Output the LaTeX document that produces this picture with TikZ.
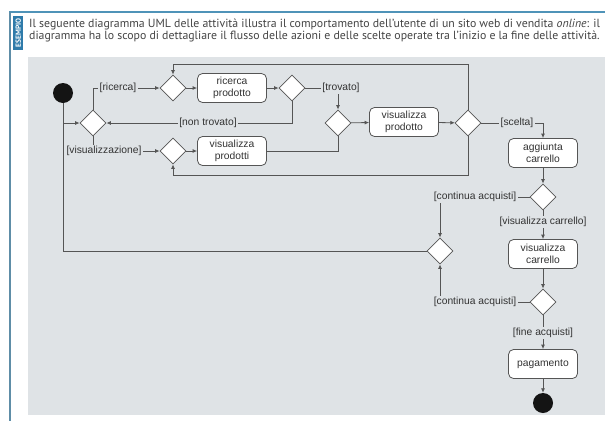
\documentclass[tikz,border=0pt]{standalone}
\usepackage{fontspec}
\setmainfont{Liberation Sans}
\newfontfamily\headfont{PT Sans}
\usetikzlibrary{shapes.geometric,arrows.meta}

\definecolor{panel}{HTML}{DFE3E6}
\definecolor{frameblue}{HTML}{4F93B8}
\definecolor{barblue}{HTML}{2F7BAA}
\definecolor{edgegray}{HTML}{555555}
\definecolor{labelgray}{HTML}{333333}
\definecolor{headgray}{HTML}{444444}

\tikzset{
  flow/.style={draw=edgegray, line width=0.8pt},
  arr/.style={flow, -{Latex[length=4.5pt,width=4pt]}},
  decision/.style={diamond, draw=edgegray, fill=white, line width=0.8pt,
    minimum width=26pt, minimum height=26pt, inner sep=0pt, aspect=1},
  action/.style={rectangle, rounded corners=5pt, draw=edgegray, fill=white,
    line width=0.8pt, minimum width=69pt, minimum height=29pt, inner sep=1pt,
    align=center, font=\fontsize{10.3}{11.5}\selectfont, text=labelgray},
  guard/.style={fill=panel, inner sep=1.5pt, text=labelgray,
    font=\fontsize{10.3}{11.5}\selectfont},
  blob/.style={circle, fill=black!92, minimum size=20pt, inner sep=0pt},
  headline/.style={anchor=base west, inner sep=0pt, text=headgray,
    font=\headfont\fontsize{11.8}{12}\selectfont}
}

\begin{document}
\begin{tikzpicture}[x=1pt,y=-1pt]
\useasboundingbox (0,0) rectangle (605,421);

% frame and header
\fill[white] (0,0) rectangle (605,421);
\fill[panel] (28,57) rectangle (605,415);
\draw[frameblue, line width=1.6pt] (9,12) -- (605,12);
\draw[frameblue!70!gray, line width=1.2pt] (10,12) -- (10,421);
\fill[barblue] (13,16) rectangle (23,50);
\node[rotate=90, text=white, font=\headfont\bfseries\fontsize{7.4}{8}\selectfont, inner sep=0pt]
  (tag) at (18.3,33) {ESEMPIO};
\node[headline] (head1) at (29,27.5) {Il seguente diagramma UML delle attività illustra il comportamento dell’utente di un sito web di vendita \emph{online}: il};
\node[headline] (head2) at (29,39.5) {diagramma ha lo scopo di dettagliare il flusso delle azioni e delle scelte operate tra l’inizio e la fine delle attività.};

% nodes
\node[blob] (start) at (63,93) {};
\node[decision] (d1) at (93,123) {};
\node[decision] (d2) at (173,88) {};
\node[action] (rp) at (232,88) {ricerca\\prodotto};
\node[decision] (d3) at (292,88) {};
\node[decision] (d4) at (338,123) {};
\node[decision] (d5) at (173,151) {};
\node[action] (vps) at (232,151) {visualizza\\prodotti};
\node[action] (vp) at (404,122) {visualizza\\prodotto};
\node[decision] (d6) at (468,123) {};
\node[action] (ac) at (543,153) {aggiunta\\carrello};
\node[decision] (d7) at (543,197) {};
\node[decision] (d8) at (440,251) {};
\node[action] (vc) at (543,254) {visualizza\\carrello};
\node[decision] (d9) at (543,302) {};
\node[action] (pag) at (543,364) {pagamento};
\node[blob] (end) at (543,403) {};

\coordinate (j1) at (63,123);
\coordinate (j2) at (63,251);
\coordinate (toploop) at (173,64);
\coordinate (botloop) at (468,175);

% connectors
\draw[flow] (start) -- (j2);
\draw[flow] (d8.west) -- (j2);
\draw[arr] (j1) -- (d1.west);
\draw[arr] (d1.north) |- (d2.west);
\draw[arr] (d2) -- (rp);
\draw[arr] (rp) -- (d3);
\draw[arr] (d3.east) -| (d4.north);
\draw[arr] (d3.south) |- (d1.east);
\draw[arr] (d1.south) |- (d5.west);
\draw[arr] (d5) -- (vps);
\draw[flow] (vps.east) -| (d4.south);
\draw[arr] (d4) -- (vp);
\draw[arr] (vp) -- (d6);
\draw[arr] (d6.north) |- (toploop) -- (d2.north);
\draw[arr] (d6.south) -- (botloop) -| (d5.south);
\draw[arr] (d6.east) -| (ac.north);
\draw[arr] (ac) -- (d7);
\draw[arr] (d7.west) -| (d8.north);
\draw[arr] (d7) -- (vc);
\draw[arr] (vc) -- (d9);
\draw[arr] (d9.west) -| (d8.south);
\draw[arr] (d9) -- (pag);
\draw[arr] (pag) -- (end);

% guards
\node[guard] (g1) at (118,88) {[ricerca]};
\node[guard] (g2) at (341,88) {[trovato]};
\node[guard] (g3) at (208,123) {[non trovato]};
\node[guard] (g4) at (104,151) {[visualizzazione]};
\node[guard] (g5) at (517,123) {[scelta]};
\node[guard] (g6) at (475,197) {[continua acquisti]};
\node[guard] (g7) at (543,222) {[visualizza carrello]};
\node[guard] (g8) at (475,302) {[continua acquisti]};
\node[guard] (g9) at (543,333) {[fine acquisti]};
\end{tikzpicture}
\end{document}
